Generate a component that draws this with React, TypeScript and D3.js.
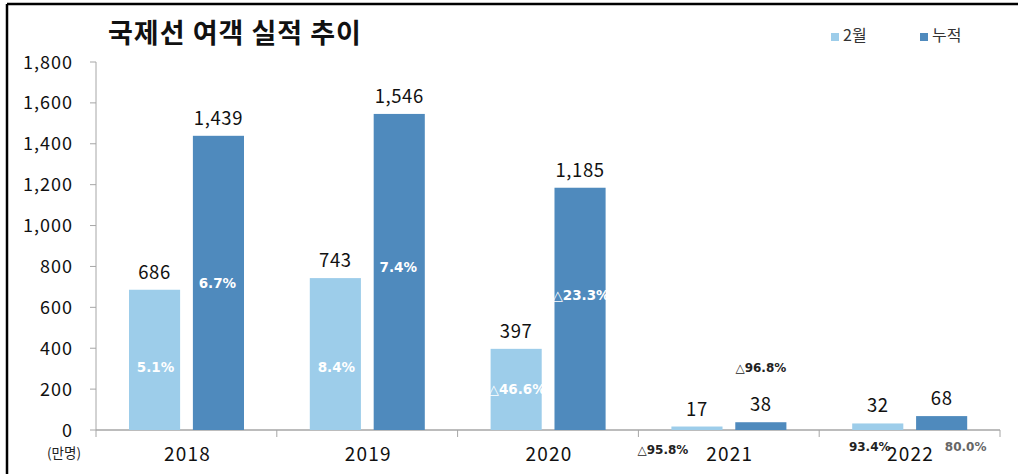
import React from "react";
import * as d3 from "d3";

// 국제선 여객 실적 (만명)
const years = ["2018", "2019", "2020", "2021", "2022"];
const febValues = [686, 743, 397, 17, 32];
const cumValues = [1439, 1546, 1185, 38, 68];
const febRates = ["5.1%", "8.4%", "△46.6%", "△95.8%", "93.4%"];
const cumRates = ["6.7%", "7.4%", "△23.3%", "△96.8%", "80.0%"];
const yTicks = [0, 200, 400, 600, 800, 1000, 1200, 1400, 1600, 1800];
const seriesNames = ["2월", "누적"];

const W = 1018;
const H = 474;
const LIGHT = "#9dcdea";
const DARK = "#4f8abd";
const FONT = "'Noto Sans CJK KR', 'Noto Sans', sans-serif";
const PCT_FONT = "'DejaVu Sans', Verdana, sans-serif";

// where each rate label sits: [value-space y, x offset from bar centre, colour]
const febRateLayout: [number, number, string][] = [
  [308, 1, "#fff"],
  [308, 1, "#fff"],
  [200, 1, "#fff"],
  [-93, -34, "#222"],
  [-78, -8, "#222"],
];
const cumRateLayout: [number, number, string][] = [
  [719, -1, "#fff"],
  [797, -1, "#fff"],
  [660, 1, "#fff"],
  [308, 0, "#222"],
  [-80, 24, "#666"],
];

export default function App() {
  const x = d3.scaleBand().domain(years).range([96, 1000]);
  const inner = d3.scaleBand().domain(["feb", "cum"]).range([33, 148]).paddingInner(0.2);
  const y = d3.scaleLinear().domain([0, 1800]).range([430, 62]);
  const fmt = d3.format(",");

  const bars = years.flatMap((yr, i) => [
    { yr, key: "feb", v: febValues[i], rate: febRates[i], lay: febRateLayout[i], color: LIGHT },
    { yr, key: "cum", v: cumValues[i], rate: cumRates[i], lay: cumRateLayout[i], color: DARK },
  ]);

  const boundaries = [...years.map((d) => x(d) as number), 1000];

  return (
    <svg
      width={W}
      height={H}
      style={{ position: "absolute", left: 0, top: 0, background: "#fff" }}
    >
      {/* frame */}
      <line x1={7} x2={W} y1={4} y2={4} stroke="#000" strokeWidth={2.5} />
      <line x1={7} x2={7} y1={4} y2={H} stroke="#000" strokeWidth={2.5} />

      <text
        x={108}
        y={43}
        fontFamily={FONT}
        fontSize={27}
        fontWeight={700}
        letterSpacing={1}
        fill="#111"
      >
        국제선 여객 실적 추이
      </text>

      {/* legend */}
      {seriesNames.map((name, i) => (
        <g key={name} transform={`translate(${831 + i * 89},33)`}>
          <rect width={8} height={8} fill={i === 0 ? LIGHT : DARK} />
          <text x={12} y={8} fontFamily={FONT} fontSize={16} fill="#333">
            {name}
          </text>
        </g>
      ))}

      {/* y axis */}
      <line x1={96} x2={96} y1={y(1800)} y2={y(0)} stroke="#a6a6a6" />
      {yTicks.map((t) => (
        <g key={t}>
          <line x1={90} x2={96} y1={y(t)} y2={y(t)} stroke="#a6a6a6" />
          <text
            x={73}
            y={y(t) + 6.5}
            textAnchor="end"
            fontFamily={FONT}
            fontSize={18}
            letterSpacing={1}
            fill="#111"
          >
            {fmt(t)}
          </text>
        </g>
      ))}

      {/* x axis */}
      <line x1={96} x2={1000} y1={y(0)} y2={y(0)} stroke="#a6a6a6" strokeWidth={1.5} />
      {boundaries.map((b, i) => (
        <line key={i} x1={b} x2={b} y1={y(0)} y2={y(0) + 7} stroke="#a6a6a6" />
      ))}
      {years.map((yr) => (
        <text
          key={yr}
          x={(x(yr) as number) + x.bandwidth() / 2 + 1}
          y={461}
          textAnchor="middle"
          fontFamily={FONT}
          fontSize={19}
          letterSpacing={1.2}
          fill="#111"
        >
          {yr}
        </text>
      ))}
      <text x={64} y={458} textAnchor="middle" fontFamily={FONT} fontSize={13.5} fill="#222">
        (만명)
      </text>

      {/* bars */}
      {bars.map((b) => {
        const bx = (x(b.yr) as number) + (inner(b.key) as number);
        const bw = inner.bandwidth();
        const cx = bx + bw / 2;
        return (
          <g key={b.yr + b.key}>
            <rect x={bx} y={y(b.v)} width={bw} height={y(0) - y(b.v)} fill={b.color} />
            <text
              x={cx}
              y={y(b.v) - 11}
              textAnchor="middle"
              fontFamily={FONT}
              fontSize={18.5}
              letterSpacing={0.6}
              fill="#111"
            >
              {fmt(b.v)}
            </text>
            <text
              x={cx + b.lay[1]}
              y={y(b.lay[0]) + 5}
              textAnchor="middle"
              fontFamily={PCT_FONT}
              fontWeight={700}
              fontSize={b.lay[2] === "#fff" ? 13.5 : 12}
              fill={b.lay[2]}
            >
              {b.rate}
            </text>
          </g>
        );
      })}
    </svg>
  );
}
